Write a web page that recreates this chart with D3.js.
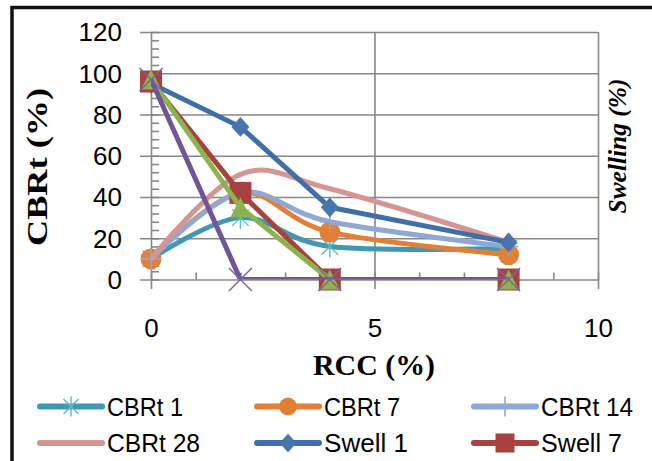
<!DOCTYPE html>
<html>
<head>
<meta charset="utf-8">
<script src="https://cdn.jsdelivr.net/npm/d3@7/dist/d3.min.js"></script>
<style>
  html, body { margin: 0; padding: 0; background: #fff; }
  svg { display: block; }
</style>
</head>
<body>
<svg id="chart" width="652" height="461"></svg>
<script>
// ---- data ----
const categories = [0, 2, 4, 8];          // RCC (%)
const cbrt1   = [10, 30, 16, 15];
const cbrt7   = [10, 42, 23, 12];
const cbrt14  = [10, 42, 28, 16];
const cbrt28  = [10, 51, 44, 18];
const swell1  = [95, 74, 35, 18];
const swell7  = [96, 42, 0, 0];
const swell14 = [97, 35, 0, 0];
const swell28 = [97, 0, 0, 0];
const yTicks = [0, 20, 40, 60, 80, 100, 120];
const xTicks = [0, 5, 10];
const seriesNames = ["CBRt 1", "CBRt 7", "CBRt 14", "CBRt 28", "Swell 1", "Swell 7", "Swell 14", "Swell 28"];

// ---- styles ----
const series = [
  {name: seriesNames[0], values: cbrt1,  color: "#4198B0", mcolor: "#5BB8D0", marker: "star",    smooth: true,  legend: true},
  {name: seriesNames[1], values: cbrt7,  color: "#E28035", mcolor: "#E28035", marker: "circle",  smooth: true,  legend: true},
  {name: seriesNames[2], values: cbrt14, color: "#8FA8D4", mcolor: "#8FA8D4", marker: "plus",    smooth: true,  legend: true},
  {name: seriesNames[3], values: cbrt28, color: "#D69492", mcolor: "#D69492", marker: "none",    smooth: true,  legend: true},
  {name: seriesNames[4], values: swell1, color: "#406EA8", mcolor: "#4874B0", marker: "diamond", smooth: false, legend: true},
  {name: seriesNames[5], values: swell7, color: "#A84240", mcolor: "#A84240", marker: "square",  smooth: false, legend: true},
  {name: seriesNames[6], values: swell14,color: "#8EB24E", mcolor: "#8EB24E", marker: "triangle",smooth: false, legend: false},
  {name: seriesNames[7], values: swell28,color: "#705698", mcolor: "#7A62A6", marker: "x",       smooth: false, legend: false}
];

const svg = d3.select("#chart");
svg.append("rect").attr("width", 652).attr("height", 461).attr("fill", "#fff");
// outer border (chart is cropped on right/bottom)
svg.append("rect").attr("x", 12).attr("y", 7.5).attr("width", 700).attr("height", 520)
  .attr("fill", "none").attr("stroke", "#111").attr("stroke-width", 3.5);

const L = 151, R = 598, T = 32, B = 279.5;
const x = d3.scaleLinear().domain([0, 10]).range([L, R]);
const y = d3.scaleLinear().domain([0, 120]).range([B, T]);
const grid = "#878787";

function styleAxis(g) {
  g.select(".domain").remove();
  g.selectAll("line").attr("stroke", grid).attr("stroke-width", 1.6);
}

// horizontal gridlines (with outward major ticks)
svg.append("g").attr("transform", `translate(140,0)`)
  .call(d3.axisLeft(y).tickValues(yTicks).tickSize(-(R - 140)).tickFormat(""))
  .call(styleAxis);
// vertical gridlines and y axis line
svg.append("g").attr("transform", `translate(0,289)`)
  .call(d3.axisBottom(x).tickValues(xTicks).tickSize(-(289 - T)).tickFormat(""))
  .call(styleAxis);
// y minor ticks
svg.append("g").attr("transform", `translate(${L},0)`)
  .call(d3.axisRight(y).tickValues(d3.range(0, 121, 4)).tickSize(8).tickFormat(""))
  .call(styleAxis);
// x minor ticks
svg.append("g").attr("transform", `translate(0,${B})`)
  .call(d3.axisTop(x).tickValues(d3.range(0, 11, 1)).tickSize(7).tickFormat(""))
  .call(styleAxis);

// tick labels
const yLab = svg.append("g").attr("transform", `translate(${L},0)`)
  .call(d3.axisLeft(y).tickValues(yTicks).tickSize(0).tickPadding(29));
yLab.select(".domain").remove();
yLab.selectAll("text").attr("font-family", "Liberation Sans, Arial, sans-serif")
  .attr("font-size", 26).attr("fill", "#000").attr("dy", "0.34em");

const xLab = svg.append("g").attr("transform", `translate(0,${B})`)
  .call(d3.axisBottom(x).tickValues(xTicks).tickSize(0).tickPadding(39));
xLab.select(".domain").remove();
xLab.selectAll("text").attr("font-family", "Liberation Sans, Arial, sans-serif")
  .attr("font-size", 26).attr("fill", "#000");

// axis titles
svg.append("text").attr("transform", "translate(47,167) rotate(-90)")
  .attr("text-anchor", "middle").attr("font-family", "Liberation Serif, Times New Roman, serif")
  .attr("font-weight", "bold").attr("font-size", 30)
  .attr("textLength", 158).attr("lengthAdjust", "spacingAndGlyphs").text("CBRt (%)");
svg.append("text").attr("transform", "translate(626,146) rotate(-90)")
  .attr("text-anchor", "middle").attr("font-family", "Liberation Serif, Times New Roman, serif")
  .attr("font-weight", "bold").attr("font-style", "italic").attr("font-size", 26)
  .attr("textLength", 135).attr("lengthAdjust", "spacingAndGlyphs").text("Swelling (%)");
svg.append("text").attr("x", 374).attr("y", 375)
  .attr("text-anchor", "middle").attr("font-family", "Liberation Serif, Times New Roman, serif")
  .attr("font-weight", "bold").attr("font-size", 30)
  .attr("textLength", 122).attr("lengthAdjust", "spacingAndGlyphs").text("RCC (%)");

// clip for lines
svg.append("clipPath").attr("id", "plotclip").append("rect")
  .attr("x", L).attr("y", T).attr("width", R - L).attr("height", B - T);

// marker drawing
function drawMarker(g, type, cx, cy, s, fill) {
  const h = s / 2;
  switch (type) {
    case "circle":
      g.append("circle").attr("cx", cx).attr("cy", cy).attr("r", h).attr("fill", fill);
      break;
    case "square":
      g.append("rect").attr("x", cx - h).attr("y", cy - h).attr("width", s).attr("height", s).attr("fill", fill);
      break;
    case "diamond":
      g.append("path").attr("d", `M${cx},${cy - h * 1.1}L${cx + h},${cy}L${cx},${cy + h * 1.1}L${cx - h},${cy}Z`)
        .attr("fill", fill);
      break;
    case "triangle":
      g.append("path").attr("d", `M${cx},${cy - h}L${cx + h},${cy + h}L${cx - h},${cy + h}Z`).attr("fill", fill);
      break;
    case "star":
      g.append("path").attr("d",
        `M${cx},${cy - h}L${cx},${cy + h}M${cx - h * 0.75},${cy - h * 0.75}L${cx + h * 0.75},${cy + h * 0.75}M${cx - h * 0.75},${cy + h * 0.75}L${cx + h * 0.75},${cy - h * 0.75}`)
        .attr("stroke", fill).attr("stroke-width", 1.4).attr("fill", "none");
      break;
    case "plus":
      g.append("path").attr("d", `M${cx},${cy - h}L${cx},${cy + h}M${cx - h},${cy}L${cx + h},${cy}`)
        .attr("stroke", fill).attr("stroke-width", 1.6).attr("fill", "none");
      break;
    case "x":
      g.append("path").attr("d", `M${cx - h},${cy - h}L${cx + h},${cy + h}M${cx - h},${cy + h}L${cx + h},${cy - h}`)
        .attr("stroke", fill).attr("stroke-width", 1.4).attr("fill", "none");
      break;
  }
}
const markerSize = {circle: 21, square: 22, diamond: 18, triangle: 20, star: 22, plus: 20, x: 23};
const legendSize = {circle: 18, square: 19, diamond: 17, triangle: 16, star: 20, plus: 20, x: 18};

series.forEach(s => {
  const g = svg.append("g");
  const line = d3.line()
    .x((d, i) => x(categories[i]))
    .y(d => y(d))
    .curve(s.smooth ? d3.curveCatmullRom.alpha(0) : d3.curveLinear);
  g.append("path").datum(s.values).attr("d", line)
    .attr("fill", "none").attr("stroke", s.color).attr("stroke-width", 5)
    .attr("stroke-linejoin", "round").attr("clip-path", "url(#plotclip)");
  if (s.marker !== "none") {
    s.values.forEach((v, i) => drawMarker(g, s.marker, x(categories[i]), y(v), markerSize[s.marker], s.mcolor));
  }
});

// legend
const legendItems = series.filter(s => s.legend);
const colX = [40, 257, 474];
const rowY = [406.5, 443];
const textLen = [76, 76, 92, 93, 84, 81];
legendItems.forEach((s, i) => {
  const col = i % 3, row = Math.floor(i / 3);
  const g = svg.append("g");
  const x0 = colX[col], x1 = x0 + 62, cy = rowY[row];
  g.append("line").attr("x1", x0).attr("x2", x1).attr("y1", cy).attr("y2", cy)
    .attr("stroke", s.color).attr("stroke-width", 6).attr("stroke-linecap", "round");
  if (s.marker !== "none") drawMarker(g, s.marker, (x0 + x1) / 2, cy, legendSize[s.marker], s.mcolor);
  g.append("text").attr("x", x1 + 5).attr("y", cy + 9.3)
    .attr("font-family", "Liberation Sans, Arial, sans-serif").attr("font-size", 26).attr("fill", "#000")
    .attr("textLength", textLen[i]).attr("lengthAdjust", "spacingAndGlyphs").text(s.name);
});
</script>
</body>
</html>
